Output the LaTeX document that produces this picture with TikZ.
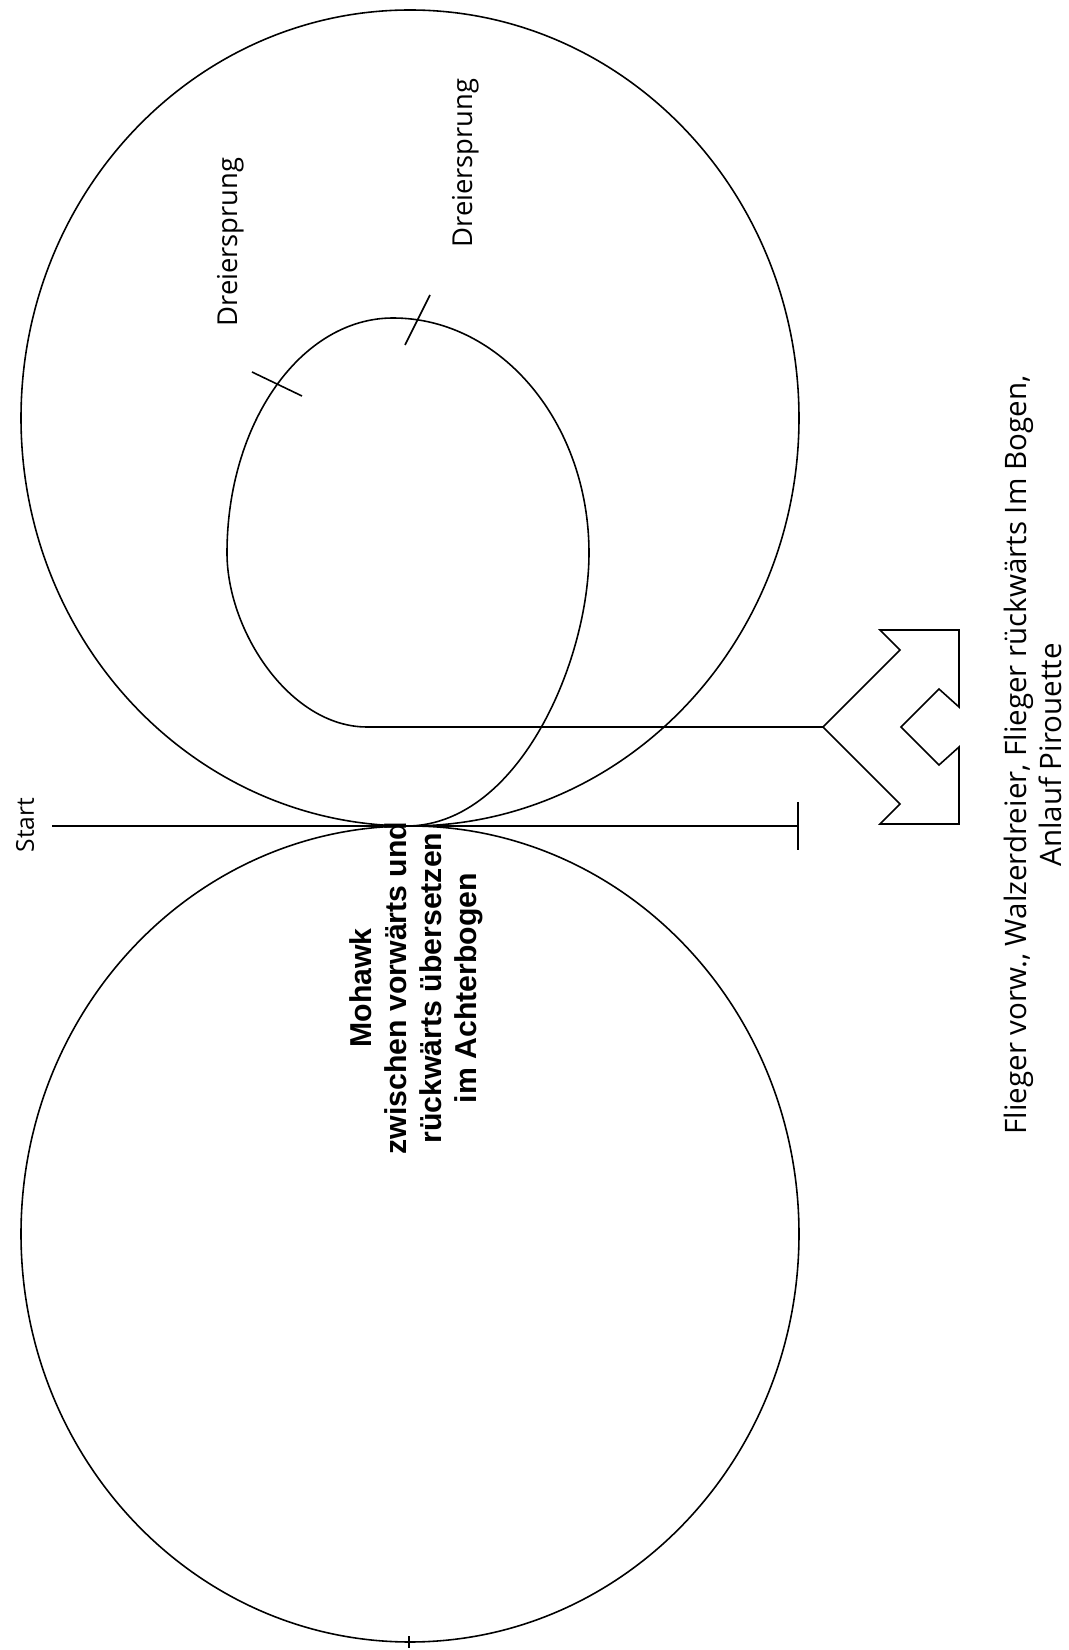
\documentclass[tikz,border=0pt]{standalone}
\usepackage{fontspec}
\setmainfont{Open Sans}
\newfontfamily\arialfont{Liberation Sans}
\usepackage{tikz}
\usetikzlibrary{calc}

\begin{document}
\begin{tikzpicture}[line width=0.45pt,
    lbl/.style={rotate=90, font=\fontsize{7.8}{9}\selectfont},
    bold/.style={rotate=90, align=center, font=\arialfont\bfseries\fontsize{8.6}{10}\selectfont}]
    \useasboundingbox (0,0) rectangle (10.69,16.5);

    \coordinate (T) at (4.10,8.24);
    \coordinate (S) at (0.52,8.24);
    \coordinate (E) at (7.98,8.24);
    \coordinate (J) at (3.67,9.23);
    \coordinate (A) at (8.23,9.23);

    \draw (4.10,12.32) ellipse (3.89 and 4.08);
    \draw (4.10,4.16) ellipse (3.89 and 4.08);
    \draw (4.09,0.02) -- (4.09,0.14);

    \draw (A) -- (J) .. controls (2.90,9.23) and (2.27,10.19) .. (2.27,10.97)
        .. controls (2.27,12.27) and (3.01,13.32) .. (3.93,13.32)
        .. controls (5.01,13.32) and (5.89,12.27) .. (5.89,10.97)
        .. controls (5.89,9.90) and (5.20,8.28) .. (T);

    \draw (2.52,12.78) -- (3.02,12.54);
    \draw (4.30,13.55) -- (4.05,13.05);

    \draw (S) -- (E);
    \draw ($(E)+(0,0.24)$) -- ($(E)+(0,-0.24)$);

    \draw (A) -- (9.00,10.00) -- (8.80,10.20) -- (9.59,10.20) -- (9.59,9.43)
        -- (9.39,9.61) -- (9.01,9.23) -- (9.39,8.85) -- (9.59,9.03)
        -- (9.59,8.26) -- (8.80,8.26) -- (9.00,8.46) -- cycle;

    \node[lbl, font=\fontsize{7}{8.4}\selectfont] (start) at (0.25,8.25) {Start};
    \node[lbl] (dreier1) at (2.31,14.08) {Dreiersprung};
    \node[lbl] (dreier2) at (4.66,14.87) {Dreiersprung};

    \node[bold] (mohawk) at (4.16,6.62)
        {Mohawk\\zwischen vorwärts und\\rückwärts übersetzen\\im Achterbogen};

    \node[rotate=90, align=center, font=\fontsize{8.4}{10}\selectfont] (flieger) at (10.33,8.95)
        {Flieger vorw., Walzerdreier, Flieger rückwärts Im Bogen,\\Anlauf Pirouette};
\end{tikzpicture}
\end{document}
